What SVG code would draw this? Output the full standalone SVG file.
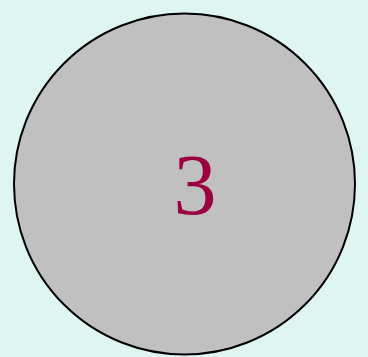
<svg xmlns="http://www.w3.org/2000/svg" width="368" height="357" viewBox="0 0 368 357">
<style>
.node{fill:#c0c0c0;stroke:#000;stroke-width:2}
.lbl{font-family:"Liberation Serif","DejaVu Serif",serif;font-size:86px;fill:#9b0040;text-anchor:middle}
</style>
<rect width="368" height="357" fill="#def5f2"/>
<g id="node3">
<circle class="node" cx="184.5" cy="184" r="170.5"/>
<text class="lbl" x="195" y="214">3</text>
</g>
<g id="connectors"/>
</svg>
